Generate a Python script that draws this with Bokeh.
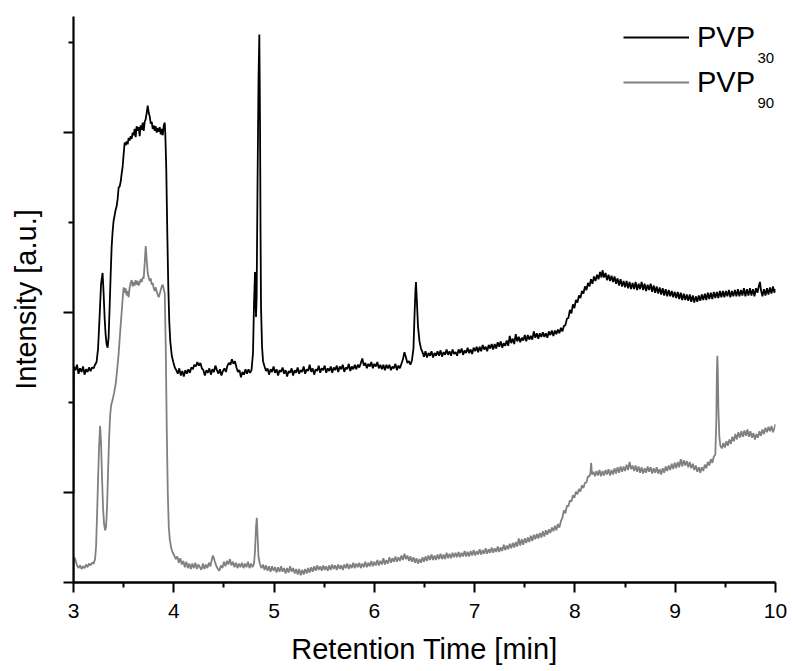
from bokeh.plotting import figure
from bokeh.models import (Range1d, FixedTicker, Legend, LegendItem, Label)
from bokeh.embed import file_html
from bokeh.resources import INLINE

# Chromatogram traces: (retention time [min], intensity [a.u.])
pvp30 = [
    (3.000, 0.99), (3.004, 2.40), (3.02, 2.36), (3.035, 2.42), (3.05, 2.32), (3.065, 2.38),
    (3.08, 2.34), (3.095, 2.40), (3.11, 2.31), (3.125, 2.37), (3.14, 2.34), (3.155, 2.39),
    (3.17, 2.35), (3.185, 2.39), (3.20, 2.38), (3.215, 2.42), (3.23, 2.45), (3.245, 2.60),
    (3.26, 2.95), (3.275, 3.32), (3.29, 3.44), (3.30, 3.22), (3.31, 2.95), (3.32, 2.76),
    (3.33, 2.65), (3.34, 2.61), (3.35, 2.72), (3.36, 3.05), (3.37, 3.40), (3.38, 3.72),
    (3.39, 3.90), (3.40, 4.02), (3.41, 4.08), (3.42, 4.14), (3.43, 4.18), (3.44, 4.26),
    (3.45, 4.39), (3.46, 4.40), (3.47, 4.45), (3.48, 4.54), (3.49, 4.62), (3.50, 4.76),
    (3.51, 4.89), (3.52, 4.86), (3.53, 4.90), (3.54, 4.87), (3.55, 4.94), (3.56, 4.91),
    (3.57, 4.96), (3.58, 4.93), (3.59, 5.00), (3.60, 4.97), (3.61, 5.04), (3.62, 4.95),
    (3.63, 5.07), (3.64, 5.02), (3.65, 5.06), (3.66, 4.96), (3.67, 5.08), (3.68, 5.03),
    (3.69, 5.11), (3.70, 5.02), (3.71, 5.12), (3.72, 5.15), (3.73, 5.22), (3.74, 5.30),
    (3.75, 5.22), (3.76, 5.18), (3.77, 5.10), (3.78, 5.12), (3.79, 5.04), (3.80, 5.08),
    (3.81, 5.02), (3.82, 5.07), (3.83, 5.00), (3.84, 5.05), (3.85, 5.01), (3.86, 5.06),
    (3.87, 4.98), (3.88, 5.04), (3.89, 4.97), (3.90, 5.08), (3.91, 5.11), (3.915, 5.00),
    (3.925, 4.60), (3.935, 3.90), (3.945, 3.30), (3.955, 2.90), (3.965, 2.68), (3.98, 2.52),
    (3.995, 2.45), (4.01, 2.39), (4.025, 2.36), (4.04, 2.32), (4.055, 2.38), (4.07, 2.30),
    (4.085, 2.35), (4.10, 2.29), (4.115, 2.36), (4.13, 2.32), (4.145, 2.37), (4.16, 2.33),
    (4.175, 2.39), (4.19, 2.37), (4.205, 2.42), (4.22, 2.40), (4.235, 2.45), (4.25, 2.41),
    (4.265, 2.44), (4.28, 2.38), (4.295, 2.36), (4.31, 2.30), (4.325, 2.36), (4.34, 2.33),
    (4.355, 2.38), (4.37, 2.31), (4.385, 2.37), (4.40, 2.34), (4.415, 2.41), (4.43, 2.36),
    (4.445, 2.32), (4.46, 2.37), (4.475, 2.30), (4.49, 2.35), (4.505, 2.38), (4.52, 2.34),
    (4.535, 2.41), (4.55, 2.44), (4.565, 2.42), (4.58, 2.48), (4.595, 2.43), (4.61, 2.46),
    (4.625, 2.39), (4.64, 2.34), (4.655, 2.36), (4.67, 2.28), (4.685, 2.34), (4.70, 2.31),
    (4.715, 2.37), (4.73, 2.32), (4.745, 2.37), (4.76, 2.33), (4.775, 2.36), (4.79, 2.55),
    (4.80, 3.10), (4.81, 3.45), (4.815, 3.15), (4.82, 2.95), (4.826, 3.17), (4.835, 4.40),
    (4.845, 5.60), (4.853, 6.09), (4.86, 5.10), (4.865, 3.90), (4.87, 3.05), (4.88, 2.62),
    (4.89, 2.46), (4.905, 2.40), (4.92, 2.35), (4.935, 2.38), (4.95, 2.31), (4.965, 2.37),
    (4.98, 2.34), (4.995, 2.40), (5.01, 2.33), (5.025, 2.37), (5.04, 2.30), (5.055, 2.36),
    (5.07, 2.34), (5.085, 2.39), (5.10, 2.32), (5.115, 2.36), (5.13, 2.29), (5.145, 2.35),
    (5.16, 2.33), (5.175, 2.38), (5.19, 2.30), (5.205, 2.36), (5.22, 2.33), (5.235, 2.39),
    (5.25, 2.32), (5.265, 2.36), (5.28, 2.34), (5.295, 2.40), (5.31, 2.32), (5.325, 2.37),
    (5.34, 2.35), (5.355, 2.42), (5.37, 2.34), (5.385, 2.38), (5.40, 2.31), (5.415, 2.37),
    (5.43, 2.35), (5.445, 2.41), (5.46, 2.33), (5.475, 2.38), (5.49, 2.36), (5.505, 2.41),
    (5.52, 2.33), (5.535, 2.38), (5.55, 2.35), (5.565, 2.40), (5.58, 2.33), (5.595, 2.39),
    (5.61, 2.36), (5.625, 2.41), (5.64, 2.34), (5.655, 2.40), (5.67, 2.37), (5.685, 2.42),
    (5.70, 2.34), (5.715, 2.39), (5.73, 2.37), (5.745, 2.43), (5.76, 2.35), (5.775, 2.40),
    (5.79, 2.37), (5.805, 2.42), (5.82, 2.37), (5.835, 2.42), (5.85, 2.39), (5.865, 2.44),
    (5.88, 2.49), (5.895, 2.41), (5.91, 2.44), (5.925, 2.38), (5.94, 2.43), (5.955, 2.40),
    (5.97, 2.45), (5.985, 2.38), (6.00, 2.43), (6.015, 2.40), (6.03, 2.45), (6.045, 2.38),
    (6.06, 2.42), (6.075, 2.37), (6.09, 2.42), (6.105, 2.36), (6.12, 2.42), (6.135, 2.38),
    (6.15, 2.42), (6.165, 2.36), (6.18, 2.40), (6.195, 2.38), (6.21, 2.43), (6.225, 2.36),
    (6.24, 2.41), (6.255, 2.38), (6.27, 2.43), (6.285, 2.48), (6.30, 2.56), (6.315, 2.50),
    (6.33, 2.44), (6.345, 2.46), (6.36, 2.42), (6.375, 2.47), (6.39, 2.60), (6.40, 2.95),
    (6.41, 3.25), (6.415, 3.34), (6.425, 3.10), (6.435, 2.85), (6.45, 2.68), (6.465, 2.60),
    (6.48, 2.56), (6.495, 2.51), (6.51, 2.57), (6.525, 2.50), (6.54, 2.55), (6.555, 2.52),
    (6.57, 2.57), (6.585, 2.50), (6.60, 2.55), (6.615, 2.52), (6.63, 2.57), (6.645, 2.52),
    (6.66, 2.58), (6.675, 2.51), (6.69, 2.56), (6.705, 2.53), (6.72, 2.59), (6.735, 2.53),
    (6.75, 2.57), (6.765, 2.52), (6.78, 2.59), (6.795, 2.54), (6.81, 2.56), (6.825, 2.52),
    (6.84, 2.59), (6.855, 2.55), (6.87, 2.60), (6.885, 2.53), (6.90, 2.58), (6.915, 2.55),
    (6.93, 2.61), (6.945, 2.55), (6.96, 2.59), (6.975, 2.54), (6.99, 2.61), (7.005, 2.57),
    (7.02, 2.62), (7.035, 2.56), (7.05, 2.62), (7.065, 2.57), (7.08, 2.64), (7.095, 2.59),
    (7.11, 2.62), (7.125, 2.57), (7.14, 2.64), (7.155, 2.60), (7.17, 2.65), (7.185, 2.59),
    (7.20, 2.65), (7.215, 2.60), (7.23, 2.67), (7.245, 2.62), (7.26, 2.68), (7.275, 2.61),
    (7.29, 2.66), (7.305, 2.63), (7.32, 2.69), (7.335, 2.63), (7.35, 2.74), (7.365, 2.66),
    (7.38, 2.71), (7.395, 2.65), (7.41, 2.76), (7.425, 2.68), (7.44, 2.73), (7.455, 2.67),
    (7.47, 2.72), (7.485, 2.69), (7.50, 2.75), (7.515, 2.68), (7.53, 2.75), (7.545, 2.70),
    (7.56, 2.74), (7.575, 2.70), (7.59, 2.79), (7.605, 2.72), (7.62, 2.77), (7.635, 2.71),
    (7.65, 2.77), (7.665, 2.73), (7.68, 2.78), (7.695, 2.73), (7.71, 2.77), (7.725, 2.72),
    (7.74, 2.79), (7.755, 2.75), (7.77, 2.80), (7.785, 2.74), (7.80, 2.80), (7.815, 2.76),
    (7.83, 2.81), (7.845, 2.77), (7.86, 2.83), (7.875, 2.79), (7.89, 2.85), (7.905, 2.86),
    (7.92, 2.93), (7.935, 2.94), (7.95, 3.03), (7.965, 2.99), (7.98, 3.09), (7.995, 3.05),
    (8.01, 3.14), (8.025, 3.11), (8.04, 3.19), (8.055, 3.16), (8.07, 3.24), (8.085, 3.21),
    (8.10, 3.29), (8.115, 3.25), (8.13, 3.33), (8.145, 3.29), (8.16, 3.37), (8.175, 3.32),
    (8.19, 3.40), (8.205, 3.35), (8.22, 3.42), (8.235, 3.37), (8.25, 3.45), (8.265, 3.39),
    (8.275, 3.47), (8.29, 3.39), (8.305, 3.44), (8.32, 3.36), (8.335, 3.42), (8.35, 3.35),
    (8.365, 3.41), (8.38, 3.34), (8.395, 3.40), (8.41, 3.32), (8.425, 3.38), (8.44, 3.30),
    (8.455, 3.37), (8.47, 3.29), (8.485, 3.35), (8.50, 3.28), (8.515, 3.35), (8.53, 3.27),
    (8.545, 3.34), (8.56, 3.26), (8.575, 3.33), (8.59, 3.26), (8.605, 3.34), (8.62, 3.25),
    (8.635, 3.32), (8.65, 3.26), (8.665, 3.34), (8.68, 3.25), (8.695, 3.32), (8.71, 3.24),
    (8.725, 3.31), (8.74, 3.25), (8.755, 3.32), (8.77, 3.23), (8.785, 3.30), (8.80, 3.22),
    (8.815, 3.29), (8.83, 3.21), (8.845, 3.28), (8.86, 3.20), (8.875, 3.27), (8.89, 3.19),
    (8.905, 3.26), (8.92, 3.18), (8.935, 3.25), (8.95, 3.18), (8.965, 3.24), (8.98, 3.17),
    (8.995, 3.23), (9.01, 3.16), (9.025, 3.23), (9.04, 3.15), (9.055, 3.22), (9.07, 3.14),
    (9.085, 3.21), (9.10, 3.14), (9.115, 3.20), (9.13, 3.13), (9.145, 3.20), (9.16, 3.12),
    (9.175, 3.19), (9.19, 3.11), (9.205, 3.18), (9.22, 3.12), (9.235, 3.19), (9.25, 3.13),
    (9.265, 3.20), (9.28, 3.14), (9.295, 3.21), (9.31, 3.14), (9.325, 3.22), (9.34, 3.15),
    (9.355, 3.22), (9.37, 3.15), (9.385, 3.23), (9.40, 3.16), (9.415, 3.23), (9.43, 3.16),
    (9.445, 3.24), (9.46, 3.17), (9.475, 3.24), (9.49, 3.17), (9.505, 3.24), (9.52, 3.18),
    (9.535, 3.25), (9.55, 3.17), (9.565, 3.24), (9.58, 3.18), (9.595, 3.25), (9.61, 3.18),
    (9.625, 3.26), (9.64, 3.18), (9.655, 3.25), (9.67, 3.19), (9.685, 3.27), (9.70, 3.18),
    (9.715, 3.26), (9.73, 3.19), (9.745, 3.27), (9.76, 3.19), (9.775, 3.26), (9.79, 3.18),
    (9.805, 3.27), (9.82, 3.22), (9.835, 3.30), (9.845, 3.34), (9.855, 3.25), (9.87, 3.18),
    (9.885, 3.26), (9.90, 3.19), (9.915, 3.27), (9.93, 3.20), (9.945, 3.28), (9.96, 3.21),
    (9.975, 3.29), (9.99, 3.22), (10.00, 3.26),
]

pvp90 = [
    (3.000, 0.00), (3.004, 0.22), (3.01, 0.28), (3.02, 0.25), (3.035, 0.19), (3.05, 0.16),
    (3.065, 0.19), (3.08, 0.15), (3.095, 0.18), (3.11, 0.16), (3.125, 0.20), (3.14, 0.17),
    (3.155, 0.21), (3.17, 0.19), (3.185, 0.22), (3.20, 0.21), (3.215, 0.26), (3.225, 0.40),
    (3.235, 0.75), (3.245, 1.15), (3.255, 1.50), (3.265, 1.74), (3.275, 1.55), (3.285, 1.15),
    (3.295, 0.82), (3.305, 0.65), (3.315, 0.58), (3.325, 0.62), (3.335, 0.85), (3.345, 1.25),
    (3.355, 1.60), (3.365, 1.85), (3.375, 1.97), (3.39, 2.03), (3.405, 2.11), (3.42, 2.20),
    (3.435, 2.36), (3.45, 2.54), (3.465, 2.78), (3.48, 3.00), (3.49, 3.15), (3.50, 3.28),
    (3.51, 3.22), (3.52, 3.27), (3.53, 3.19), (3.54, 3.24), (3.55, 3.17), (3.56, 3.28),
    (3.57, 3.33), (3.58, 3.36), (3.59, 3.29), (3.60, 3.34), (3.61, 3.30), (3.62, 3.36),
    (3.63, 3.31), (3.64, 3.35), (3.65, 3.30), (3.66, 3.33), (3.67, 3.37), (3.68, 3.34),
    (3.69, 3.39), (3.70, 3.38), (3.71, 3.55), (3.72, 3.74), (3.73, 3.58), (3.74, 3.44),
    (3.75, 3.39), (3.76, 3.35), (3.77, 3.38), (3.78, 3.31), (3.79, 3.33), (3.80, 3.27),
    (3.81, 3.24), (3.82, 3.28), (3.83, 3.23), (3.84, 3.20), (3.85, 3.17), (3.86, 3.21),
    (3.87, 3.25), (3.88, 3.29), (3.89, 3.31), (3.90, 3.26), (3.91, 3.21), (3.92, 2.60),
    (3.93, 1.70), (3.94, 1.00), (3.95, 0.62), (3.96, 0.48), (3.975, 0.38), (3.99, 0.33),
    (4.005, 0.30), (4.02, 0.26), (4.035, 0.29), (4.05, 0.22), (4.065, 0.27), (4.08, 0.20),
    (4.095, 0.24), (4.11, 0.17), (4.125, 0.23), (4.14, 0.16), (4.155, 0.21), (4.17, 0.15),
    (4.185, 0.21), (4.20, 0.16), (4.215, 0.22), (4.23, 0.15), (4.245, 0.20), (4.26, 0.17),
    (4.275, 0.14), (4.29, 0.21), (4.305, 0.15), (4.32, 0.20), (4.335, 0.16), (4.35, 0.22),
    (4.365, 0.18), (4.38, 0.26), (4.39, 0.30), (4.40, 0.27), (4.41, 0.23), (4.425, 0.18),
    (4.44, 0.15), (4.455, 0.13), (4.47, 0.19), (4.485, 0.16), (4.50, 0.23), (4.515, 0.18),
    (4.53, 0.24), (4.545, 0.20), (4.56, 0.26), (4.575, 0.19), (4.59, 0.23), (4.605, 0.17),
    (4.62, 0.22), (4.635, 0.16), (4.65, 0.21), (4.665, 0.17), (4.68, 0.22), (4.695, 0.16),
    (4.71, 0.21), (4.725, 0.17), (4.74, 0.23), (4.755, 0.16), (4.77, 0.21), (4.785, 0.17),
    (4.80, 0.21), (4.81, 0.35), (4.82, 0.62), (4.828, 0.72), (4.836, 0.50), (4.845, 0.28),
    (4.86, 0.20), (4.875, 0.16), (4.89, 0.20), (4.905, 0.14), (4.92, 0.19), (4.935, 0.13),
    (4.95, 0.18), (4.965, 0.12), (4.98, 0.18), (4.995, 0.13), (5.01, 0.17), (5.025, 0.11),
    (5.04, 0.17), (5.055, 0.12), (5.07, 0.18), (5.085, 0.12), (5.10, 0.16), (5.115, 0.10),
    (5.13, 0.16), (5.145, 0.11), (5.16, 0.18), (5.175, 0.12), (5.19, 0.16), (5.205, 0.10),
    (5.22, 0.15), (5.235, 0.09), (5.25, 0.15), (5.265, 0.08), (5.28, 0.14), (5.295, 0.09),
    (5.31, 0.15), (5.325, 0.10), (5.34, 0.16), (5.355, 0.11), (5.37, 0.17), (5.385, 0.12),
    (5.40, 0.18), (5.415, 0.13), (5.43, 0.19), (5.445, 0.14), (5.46, 0.18), (5.475, 0.13),
    (5.49, 0.19), (5.505, 0.14), (5.52, 0.18), (5.535, 0.13), (5.55, 0.19), (5.565, 0.14),
    (5.58, 0.20), (5.595, 0.15), (5.61, 0.19), (5.625, 0.14), (5.64, 0.20), (5.655, 0.15),
    (5.67, 0.19), (5.685, 0.14), (5.70, 0.20), (5.715, 0.16), (5.73, 0.21), (5.745, 0.15),
    (5.76, 0.20), (5.775, 0.16), (5.79, 0.22), (5.805, 0.16), (5.82, 0.21), (5.835, 0.17),
    (5.85, 0.22), (5.865, 0.16), (5.88, 0.21), (5.895, 0.17), (5.91, 0.23), (5.925, 0.17),
    (5.94, 0.22), (5.955, 0.18), (5.97, 0.24), (5.985, 0.18), (6.00, 0.23), (6.015, 0.19),
    (6.03, 0.25), (6.045, 0.19), (6.06, 0.24), (6.075, 0.20), (6.09, 0.27), (6.105, 0.20),
    (6.12, 0.25), (6.135, 0.21), (6.15, 0.28), (6.165, 0.22), (6.18, 0.27), (6.195, 0.23),
    (6.21, 0.29), (6.225, 0.23), (6.24, 0.28), (6.255, 0.24), (6.27, 0.30), (6.285, 0.25),
    (6.30, 0.32), (6.315, 0.26), (6.33, 0.30), (6.345, 0.24), (6.36, 0.29), (6.375, 0.23),
    (6.39, 0.28), (6.405, 0.22), (6.42, 0.27), (6.435, 0.21), (6.45, 0.26), (6.465, 0.22),
    (6.48, 0.28), (6.495, 0.23), (6.51, 0.29), (6.525, 0.24), (6.54, 0.30), (6.555, 0.25),
    (6.57, 0.31), (6.585, 0.25), (6.60, 0.30), (6.615, 0.25), (6.63, 0.31), (6.645, 0.26),
    (6.66, 0.32), (6.675, 0.26), (6.69, 0.31), (6.705, 0.26), (6.72, 0.33), (6.735, 0.27),
    (6.75, 0.32), (6.765, 0.27), (6.78, 0.33), (6.795, 0.28), (6.81, 0.33), (6.825, 0.28),
    (6.84, 0.34), (6.855, 0.28), (6.87, 0.33), (6.885, 0.29), (6.90, 0.35), (6.915, 0.29),
    (6.93, 0.34), (6.945, 0.29), (6.96, 0.35), (6.975, 0.30), (6.99, 0.36), (7.005, 0.30),
    (7.02, 0.35), (7.035, 0.31), (7.05, 0.37), (7.065, 0.31), (7.08, 0.36), (7.095, 0.32),
    (7.11, 0.38), (7.125, 0.32), (7.14, 0.37), (7.155, 0.33), (7.17, 0.39), (7.185, 0.33),
    (7.20, 0.38), (7.215, 0.34), (7.23, 0.40), (7.245, 0.34), (7.26, 0.39), (7.275, 0.35),
    (7.29, 0.42), (7.305, 0.36), (7.32, 0.41), (7.335, 0.37), (7.35, 0.43), (7.365, 0.38),
    (7.38, 0.44), (7.395, 0.39), (7.41, 0.45), (7.425, 0.40), (7.44, 0.49), (7.455, 0.41),
    (7.47, 0.48), (7.485, 0.42), (7.50, 0.49), (7.515, 0.44), (7.53, 0.50), (7.545, 0.45),
    (7.56, 0.52), (7.575, 0.46), (7.59, 0.53), (7.605, 0.48), (7.62, 0.54), (7.635, 0.49),
    (7.65, 0.55), (7.665, 0.50), (7.68, 0.57), (7.695, 0.51), (7.71, 0.58), (7.725, 0.53),
    (7.74, 0.59), (7.755, 0.55), (7.77, 0.61), (7.785, 0.57), (7.80, 0.63), (7.815, 0.58),
    (7.83, 0.65), (7.845, 0.61), (7.86, 0.68), (7.875, 0.72), (7.89, 0.80), (7.905, 0.77),
    (7.92, 0.85), (7.935, 0.85), (7.95, 0.91), (7.965, 0.90), (7.98, 0.97), (7.995, 0.94),
    (8.01, 1.01), (8.025, 0.98), (8.04, 1.04), (8.055, 1.01), (8.07, 1.08), (8.085, 1.05),
    (8.10, 1.11), (8.115, 1.11), (8.13, 1.18), (8.145, 1.18), (8.155, 1.22), (8.162, 1.33),
    (8.17, 1.20), (8.185, 1.23), (8.20, 1.18), (8.215, 1.24), (8.23, 1.19), (8.245, 1.25),
    (8.26, 1.18), (8.275, 1.24), (8.29, 1.19), (8.305, 1.25), (8.32, 1.20), (8.335, 1.26),
    (8.35, 1.19), (8.365, 1.25), (8.38, 1.20), (8.395, 1.27), (8.41, 1.21), (8.425, 1.28),
    (8.44, 1.22), (8.455, 1.29), (8.47, 1.23), (8.485, 1.29), (8.50, 1.24), (8.515, 1.31),
    (8.53, 1.25), (8.545, 1.34), (8.56, 1.26), (8.575, 1.30), (8.59, 1.24), (8.605, 1.30),
    (8.62, 1.23), (8.635, 1.29), (8.65, 1.22), (8.665, 1.28), (8.68, 1.21), (8.695, 1.27),
    (8.71, 1.22), (8.725, 1.29), (8.74, 1.23), (8.755, 1.28), (8.77, 1.21), (8.785, 1.27),
    (8.80, 1.22), (8.815, 1.28), (8.83, 1.21), (8.845, 1.26), (8.86, 1.20), (8.875, 1.27),
    (8.89, 1.22), (8.905, 1.29), (8.92, 1.24), (8.935, 1.30), (8.95, 1.25), (8.965, 1.32),
    (8.98, 1.26), (8.995, 1.33), (9.01, 1.27), (9.025, 1.34), (9.04, 1.28), (9.055, 1.37),
    (9.07, 1.29), (9.085, 1.36), (9.10, 1.30), (9.115, 1.35), (9.13, 1.28), (9.145, 1.34),
    (9.16, 1.27), (9.175, 1.32), (9.19, 1.25), (9.205, 1.30), (9.22, 1.23), (9.235, 1.28),
    (9.25, 1.22), (9.265, 1.28), (9.28, 1.24), (9.295, 1.31), (9.31, 1.27), (9.325, 1.34),
    (9.34, 1.30), (9.355, 1.37), (9.37, 1.33), (9.385, 1.40), (9.40, 1.42), (9.41, 1.80),
    (9.415, 2.30), (9.42, 2.52), (9.425, 2.35), (9.43, 1.95), (9.44, 1.62), (9.45, 1.52),
    (9.465, 1.49), (9.48, 1.55), (9.495, 1.50), (9.51, 1.57), (9.525, 1.52), (9.54, 1.59),
    (9.555, 1.54), (9.57, 1.62), (9.585, 1.57), (9.60, 1.65), (9.615, 1.59), (9.63, 1.67),
    (9.645, 1.61), (9.66, 1.68), (9.675, 1.62), (9.69, 1.69), (9.705, 1.63), (9.72, 1.70),
    (9.735, 1.62), (9.75, 1.68), (9.765, 1.61), (9.78, 1.66), (9.795, 1.59), (9.81, 1.65),
    (9.825, 1.61), (9.84, 1.68), (9.855, 1.63), (9.87, 1.70), (9.885, 1.65), (9.90, 1.72),
    (9.915, 1.67), (9.93, 1.73), (9.945, 1.68), (9.96, 1.74), (9.975, 1.67), (9.99, 1.72),
    (10.00, 1.76),
]

x_major_ticks = [3, 4, 5, 6, 7, 8, 9, 10]
x_minor_ticks = [3.5, 4.5, 5.5, 6.5, 7.5, 8.5, 9.5]
y_major_ticks = [0, 1, 3, 5]
y_minor_ticks = [2, 4, 6]

x_title = "Retention Time [min]"
y_title = "Intensity [a.u.]"
series_names = ["PVP", "PVP"]
series_subscripts = ["30", "90"]
series_colors = ["#000000", "#808080"]

FONT = "Liberation Sans"

t30, i30 = zip(*pvp30)
t90, i90 = zip(*pvp90)

p = figure(width=792, height=671, output_backend="svg", toolbar_location=None,
           x_range=Range1d(3, 10), y_range=Range1d(0, 6.29),
           min_border_left=73, min_border_right=17, min_border_top=16,
           min_border_bottom=89)
p.outline_line_color = None
p.xgrid.visible = False
p.ygrid.visible = False
p.background_fill_color = "white"
p.border_fill_color = "white"

r30 = p.line(t30, i30, line_color=series_colors[0], line_width=1.8)
r90 = p.line(t90, i90, line_color=series_colors[1], line_width=1.8)

# x axis: ticks outward, numeric labels
xa = p.xaxis[0]
xa.ticker = FixedTicker(ticks=x_major_ticks, minor_ticks=x_minor_ticks)
xa.axis_label = x_title
xa.axis_label_text_font = FONT
xa.axis_label_text_font_size = "29px"
xa.axis_label_text_font_style = "normal"
xa.axis_label_text_color = "#000000"
xa.axis_label_standoff = 12
xa.major_label_text_font = FONT
xa.major_label_text_font_size = "21px"
xa.major_label_text_color = "#000000"
xa.major_label_standoff = 11
xa.axis_line_width = 2.4
xa.axis_line_color = "#000000"
xa.major_tick_line_width = 2
xa.minor_tick_line_width = 2
xa.major_tick_line_color = "#000000"
xa.minor_tick_line_color = "#000000"
xa.major_tick_in = 0
xa.major_tick_out = 10
xa.minor_tick_in = 0
xa.minor_tick_out = 5

# y axis: arbitrary units, ticks only
ya = p.yaxis[0]
ya.ticker = FixedTicker(ticks=y_major_ticks, minor_ticks=y_minor_ticks)
ya.major_label_overrides = {t: "" for t in y_major_ticks}
ya.axis_label = y_title
ya.axis_label_text_font = FONT
ya.axis_label_text_font_size = "29px"
ya.axis_label_text_font_style = "normal"
ya.axis_label_text_color = "#000000"
ya.axis_label_standoff = 22
ya.axis_line_width = 2.2
ya.axis_line_color = "#000000"
ya.major_tick_line_width = 2
ya.minor_tick_line_width = 2
ya.major_tick_line_color = "#000000"
ya.minor_tick_line_color = "#000000"
ya.major_tick_in = 0
ya.major_tick_out = 10
ya.minor_tick_in = 0
ya.minor_tick_out = 5

legend = Legend(items=[LegendItem(label=series_names[0], renderers=[r30]),
                       LegendItem(label=series_names[1], renderers=[r90])],
                location=(550, 479), padding=0, spacing=3, margin=0,
                glyph_width=66, glyph_height=42, label_standoff=8,
                label_text_font=FONT, label_text_font_size="29px",
                label_text_color="#000000",
                border_line_color=None, background_fill_alpha=0)
p.add_layout(legend)

# subscripts of the legend entries (screen px relative to the plot frame)
for k, sub in enumerate(series_subscripts):
    p.add_layout(Label(x=684, y=525 - 45 * k, x_units="screen", y_units="screen",
                       text=sub, text_font=FONT, text_font_size="15px",
                       text_baseline="alphabetic", text_color="#000000"))

open("out.html", "w").write(file_html(p, INLINE))
